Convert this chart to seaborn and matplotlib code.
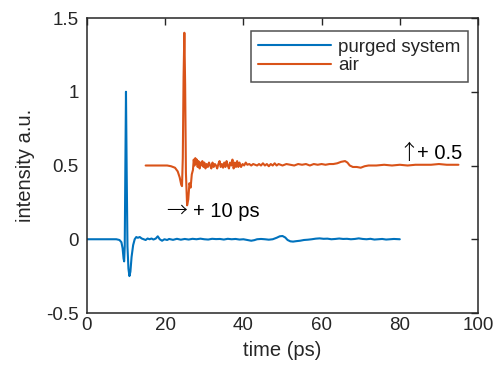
import numpy as np
import pandas as pd
import matplotlib
matplotlib.use("Agg")
import matplotlib.pyplot as plt
import seaborn as sns

# purged system trace (time in ps, intensity a.u.)
t_purged = [0, 2, 4, 6, 7.5, 8.3, 8.8, 9.1, 9.35, 9.5, 9.65, 9.8, 9.97, 10.15, 10.35,
            10.6, 10.85, 11.1, 11.4, 11.8, 12.2, 12.6, 13.0, 13.5, 14.0, 14.5, 15.0,
            15.5, 16.0, 16.5, 17.0, 17.6, 18.1, 18.6, 19.2, 19.8, 20.5, 21, 22, 23,
            24, 25, 26, 27, 28, 29, 30, 31, 32, 33, 34, 35, 36, 37, 38, 39, 40, 41,
            42, 42.8, 43.5, 44.5, 45.5, 46.5, 47.5, 48.5, 49.3, 50.0, 50.7, 51.3,
            52.0, 52.7, 53.5, 54.5, 55.5, 56.5, 57.5, 58.5, 59.5, 60.5, 61.5, 62.5,
            63.5, 64.5, 65.5, 66.5, 67.5, 68.5, 69.5, 70.5, 71.5, 72.5, 73.5, 74.5,
            75.5, 76.5, 77.5, 78.5, 80]
i_purged = [0, 0, 0, 0, 0, -0.005, -0.02, -0.06, -0.13, -0.15, -0.05, 0.45, 1.0, 0.45,
            -0.05, -0.2, -0.25, -0.22, -0.12, -0.04, 0.0, 0.015, 0.01, 0.015, 0.005,
            0.0, -0.005, 0.005, 0.0, 0.005, -0.002, 0.005, 0.02, 0.0, -0.01, 0.0,
            -0.005, 0.002, -0.004, 0.003, -0.003, 0.002, -0.002, 0.003, 0.0, 0.004,
            0.0, -0.002, 0.003, 0.001, 0.002, -0.002, 0.003, 0.0, 0.002, -0.002, 0.0,
            -0.005, -0.01, -0.006, 0.0, 0.002, 0.0, -0.003, 0.0, 0.01, 0.02, 0.022,
            0.012, -0.005, -0.014, -0.016, -0.013, -0.01, -0.005, -0.003, 0.0, 0.004,
            0.006, 0.003, 0.004, 0.0, 0.002, 0.005, 0.002, 0.003, 0.0, 0.002, 0.006,
            0.002, 0.0, 0.003, -0.002, 0.0, 0.002, -0.002, 0.0, 0.002, 0.0]

# air trace, already shifted by +10 ps and +0.5
t_air = [15, 17, 19, 20.5, 21.5, 22.5, 23.2, 23.7, 24.1, 24.3, 24.5, 24.7, 24.9, 25.1,
         25.3, 25.6, 25.9, 26.2, 26.5, 26.8, 27.1, 27.3, 27.5, 27.7, 27.9, 28.1, 28.3,
         28.5, 28.8, 29.0, 29.2, 29.5, 29.8, 30.0, 30.3, 30.6, 30.9, 31.2, 31.5, 31.8,
         32.1, 32.4, 32.7, 33.0, 33.3, 33.6, 33.9, 34.2, 34.5, 34.8, 35.1, 35.4, 35.7,
         36.0, 36.3, 36.6, 36.9, 37.2, 37.5, 37.8, 38.1, 38.4, 38.7, 39.0, 39.4,
         39.8, 40.2, 40.6, 41.0, 41.5, 42, 42.5, 43, 43.5, 44, 44.5, 45, 45.5, 46,
         46.5, 47, 47.5, 48, 48.5, 49, 49.5, 50, 51, 52, 53, 54, 55, 56, 57, 58, 59,
         60, 61, 62, 63, 64, 65, 66, 66.6, 67.2, 68, 69, 70, 71, 72, 74, 76, 78, 80,
         82, 84, 86, 88, 90, 92, 95]
i_air = [0.5, 0.5, 0.5, 0.5, 0.495, 0.485, 0.46, 0.42, 0.37, 0.36, 0.55, 1.1, 1.4,
         1.05, 0.45, 0.23, 0.27, 0.38, 0.35, 0.44, 0.47, 0.54, 0.50, 0.55, 0.51, 0.54,
         0.49, 0.53, 0.48, 0.52, 0.50, 0.53, 0.49, 0.52, 0.48, 0.51, 0.49, 0.52, 0.50,
         0.48, 0.52, 0.49, 0.51, 0.50, 0.48, 0.51, 0.53, 0.49, 0.51, 0.485, 0.52,
         0.49, 0.53, 0.50, 0.48, 0.52, 0.50, 0.54, 0.48, 0.52, 0.49, 0.53, 0.49,
         0.52, 0.49, 0.51, 0.50, 0.52, 0.505, 0.51, 0.5, 0.51, 0.505, 0.5, 0.51, 0.5,
         0.515, 0.5, 0.51, 0.495, 0.51, 0.5, 0.515, 0.5, 0.51, 0.505, 0.5, 0.51,
         0.505, 0.5, 0.51, 0.505, 0.51, 0.5, 0.51, 0.505, 0.51, 0.505, 0.51, 0.51,
         0.515, 0.525, 0.53, 0.52, 0.5, 0.49, 0.49, 0.485, 0.495, 0.5, 0.5, 0.505,
         0.5, 0.505, 0.5, 0.505, 0.505, 0.505, 0.51, 0.505, 0.505]

x_ticks = [0, 20, 40, 60, 80, 100]
y_ticks = [-0.5, 0, 0.5, 1, 1.5]
y_ticklabels = ["-0.5", "0", "0.5", "1", "1.5"]

sns.set_style("white")
plt.rcParams['font.family'] = ['Liberation Sans', 'DejaVu Sans']
ink = '#262626'

fig = plt.figure(figsize=(4.96, 3.72), dpi=100)
ax = fig.add_axes([0.1754, 0.1586, 0.7883, 0.793])

sns.lineplot(x=t_purged, y=i_purged, ax=ax, color='#0072BD', lw=1.5, label='purged system')
sns.lineplot(x=t_air, y=i_air, ax=ax, color='#D95319', lw=1.5, label='air')

ax.set_xlim(0, 100)
ax.set_ylim(-0.5, 1.5)
ax.set_xticks(x_ticks)
ax.set_yticks(y_ticks)
ax.set_yticklabels(y_ticklabels)
ax.tick_params(direction='in', length=5, width=1, colors=ink, labelsize=13.5,
               top=True, right=True, labelcolor=ink)
ax.tick_params(axis='y', pad=6)
ax.tick_params(axis='x', pad=3)
for s in ax.spines.values():
    s.set_color(ink)
    s.set_linewidth(1.1)
ax.set_xlabel('time (ps)', fontsize=14.5, color=ink, labelpad=5)
ax.set_ylabel('intensity a.u.', fontsize=14.5, color=ink, labelpad=8)

# shift annotations
arrow_font = ['Noto Sans CJK JP', 'DejaVu Sans']
ax.text(20.2, 0.15, '→', fontsize=15, va='baseline', ha='left', color='black',
        family=arrow_font, fontweight='light')
ax.text(27.1, 0.15, '+ 10 ps', fontsize=14.5, va='baseline', ha='left', color='black')
ax.text(79.6, 0.544, '↑', fontsize=15, va='baseline', ha='left', color='black',
        family=arrow_font, fontweight='light')
ax.text(84.4, 0.544, '+ 0.5', fontsize=14.5, va='baseline', ha='left', color='black')

leg = ax.legend(loc='upper right', bbox_to_anchor=(0.974, 0.956), borderaxespad=0,
                fontsize=13.5, frameon=True, fancybox=False, edgecolor=ink,
                handlelength=3.9, handletextpad=0.35, labelspacing=0.08, borderpad=0.4)
leg.get_frame().set_linewidth(1.1)

fig.savefig('out.png', dpi=100)
